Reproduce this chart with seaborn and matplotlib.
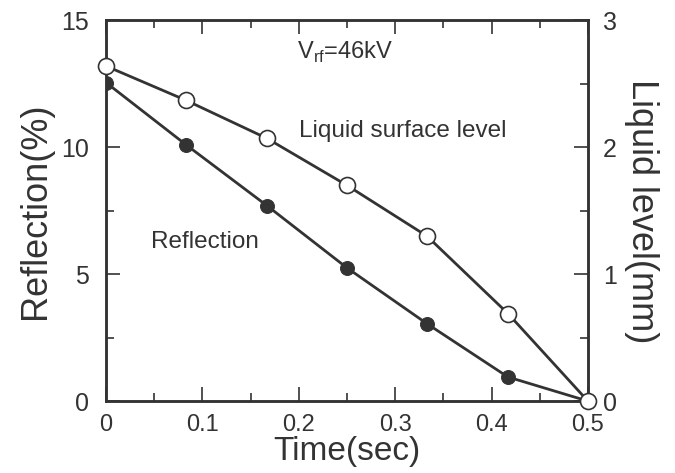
import numpy as np
import pandas as pd
import seaborn as sns
import matplotlib.pyplot as plt
from matplotlib.ticker import MultipleLocator

# data
time_sec = [0.0, 0.083, 0.167, 0.25, 0.333, 0.417, 0.5]
reflection = [12.55, 10.1, 7.7, 5.25, 3.05, 0.95, 0.0]
liquid_level = [2.64, 2.37, 2.07, 1.70, 1.30, 0.69, 0.0]
x_ticks = [0, 0.1, 0.2, 0.3, 0.4, 0.5]
x_ticklabels = ['0', '0.1', '0.2', '0.3', '0.4', '0.5']

df = pd.DataFrame({'time': time_sec, 'reflection': reflection, 'level': liquid_level})

sns.set_theme(style="ticks")
plt.rcParams['font.family'] = ['Liberation Sans', 'DejaVu Sans']
ink = "#333333"

fig = plt.figure(figsize=(6.75, 4.73), dpi=100)
ax = fig.add_axes([0.157, 0.152, 0.714, 0.805])
ax2 = ax.twinx()

sns.lineplot(ax=ax, data=df, x='time', y='reflection', color=ink, linewidth=2.0,
             marker='o', markersize=10, markerfacecolor=ink, markeredgecolor=ink)
sns.lineplot(ax=ax2, data=df, x='time', y='level', color=ink, linewidth=2.0,
             marker='o', markersize=11.5, markerfacecolor='white', markeredgecolor=ink,
             markeredgewidth=1.2, clip_on=False, zorder=5)

ax.set_xlim(0, 0.5)
ax.set_ylim(0, 15)
ax2.set_ylim(0, 3)

ax.xaxis.set_minor_locator(MultipleLocator(0.05))
ax.yaxis.set_major_locator(MultipleLocator(5))
ax.yaxis.set_minor_locator(MultipleLocator(2.5))
ax2.yaxis.set_major_locator(MultipleLocator(1))
ax2.yaxis.set_minor_locator(MultipleLocator(0.5))

ax.set_xticks(x_ticks)
ax.set_xticklabels(x_ticklabels)

ax.tick_params(axis='x', which='both', direction='in', top=True, colors=ink, labelsize=17, pad=9)
ax.tick_params(axis='y', which='both', direction='in', right=False, colors=ink, labelsize=18, pad=12)
ax2.tick_params(axis='y', which='both', direction='in', colors=ink, labelsize=18, pad=11)
for a in (ax, ax2):
    a.tick_params(which='major', length=10, width=1.2)
    a.tick_params(which='minor', length=6, width=1.2)
    for s in a.spines.values():
        s.set_color(ink)
        s.set_linewidth(1.8)

ax.set_xlabel('Time(sec)', fontsize=24, color=ink, labelpad=0)
ax.set_ylabel('Reflection(%)', fontsize=26, color=ink, labelpad=6)
ax2.set_ylabel('Liquid level(mm)', fontsize=26, color=ink, rotation=270, labelpad=30)

ax.text(0.198, 13.5, r'V$_{\mathregular{rf}}$=46kV', fontsize=17, color=ink, va='baseline')
ax.text(0.2, 10.4, 'Liquid surface level', fontsize=17.5, color=ink, va='baseline')
ax.text(0.047, 6.05, 'Reflection', fontsize=17.5, color=ink, va='baseline')

fig.savefig('out.png', dpi=100)
